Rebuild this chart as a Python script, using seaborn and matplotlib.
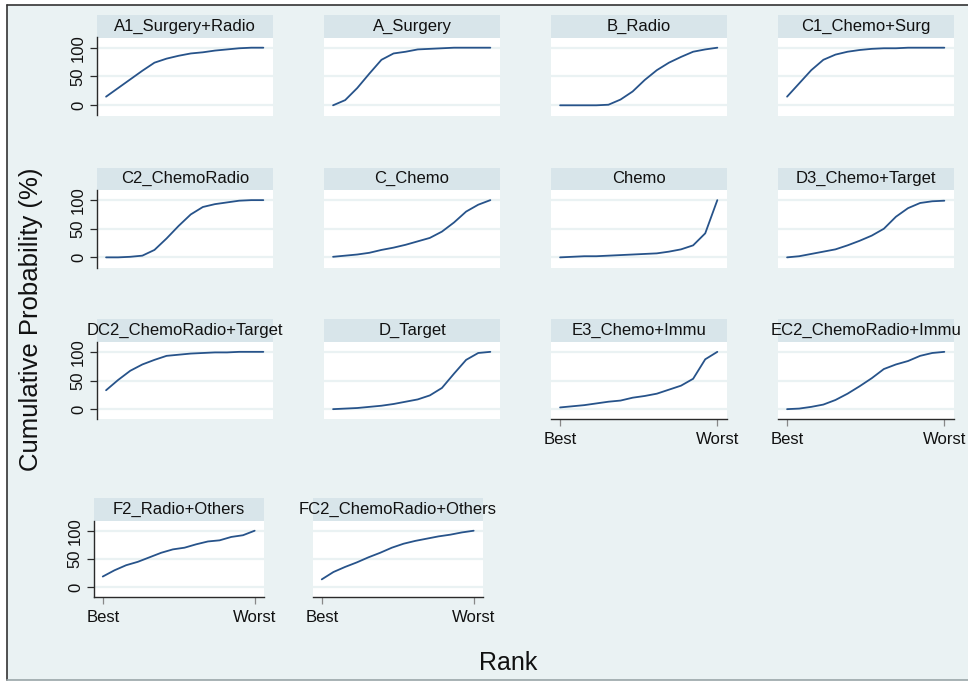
import matplotlib
matplotlib.use("Agg")
import matplotlib.pyplot as plt
import numpy as np
import pandas as pd
import seaborn as sns
from matplotlib.patches import Rectangle
from matplotlib.lines import Line2D

# Cumulative ranking probabilities (%) for each treatment, rank 1 (best) .. 14 (worst)
ranks = list(range(1, 15))
treatments = [
    "A1_Surgery+Radio", "A_Surgery", "B_Radio", "C1_Chemo+Surg",
    "C2_ChemoRadio", "C_Chemo", "Chemo", "D3_Chemo+Target",
    "DC2_ChemoRadio+Target", "D_Target", "E3_Chemo+Immu", "EC2_ChemoRadio+Immu",
    "F2_Radio+Others", "FC2_ChemoRadio+Others",
]
a1_surgery_radio = [15, 30, 45, 60, 74, 81, 86, 90, 92, 95, 97, 99, 100, 100]
a_surgery = [0, 9, 30, 55, 79, 90, 93, 97, 98, 99, 100, 100, 100, 100]
b_radio = [0, 0, 0, 0, 1, 10, 24, 44, 61, 74, 84, 93, 97, 100]
c1_chemo_surg = [15, 38, 61, 79, 88, 93, 96, 98, 99, 99, 100, 100, 100, 100]
c2_chemoradio = [0, 0, 1, 3, 13, 33, 55, 75, 88, 93, 96, 99, 100, 100]
c_chemo = [1, 3, 5, 8, 13, 17, 22, 28, 34, 45, 61, 80, 92, 100]
chemo = [0, 1, 2, 2, 3, 4, 5, 6, 7, 10, 14, 21, 42, 100]
d3_chemo_target = [0, 2, 6, 10, 14, 21, 29, 38, 50, 71, 86, 95, 98, 99]
dc2_chemoradio_target = [33, 51, 67, 78, 86, 93, 95, 97, 98, 99, 99, 100, 100, 100]
d_target = [0, 1, 2, 4, 6, 9, 13, 17, 24, 37, 62, 86, 98, 100]
e3_chemo_immu = [3, 5, 7, 10, 13, 15, 20, 23, 27, 34, 41, 53, 87, 100]
ec2_chemoradio_immu = [0, 1, 4, 8, 16, 27, 40, 54, 70, 78, 84, 93, 98, 100]
f2_radio_others = [19, 30, 39, 45, 53, 61, 67, 70, 76, 81, 83, 89, 92, 100]
fc2_chemoradio_others = [14, 27, 36, 44, 53, 61, 70, 77, 82, 86, 90, 93, 97, 100]

series = [
    a1_surgery_radio, a_surgery, b_radio, c1_chemo_surg,
    c2_chemoradio, c_chemo, chemo, d3_chemo_target,
    dc2_chemoradio_target, d_target, e3_chemo_immu, ec2_chemoradio_immu,
    f2_radio_others, fc2_chemoradio_others,
]
y_ticks = [0, 50, 100]
x_tick_labels = ["Best", "Worst"]

df = pd.DataFrame({
    "treatment": np.repeat(treatments, len(ranks)),
    "rank": ranks * len(treatments),
    "prob": np.concatenate(series),
})

sns.set_style("white")
plt.rcParams["font.family"] = ["Liberation Sans", "DejaVu Sans"]

W, H = 968, 682
fig = plt.figure(figsize=(W / 100, H / 100), dpi=100)
fig.patch.set_facecolor("white")

BG = "#eaf2f3"
STRIP = "#d8e5ea"
LINE = "#27538a"
AXC = "#2a2a2a"
TXT = "#111111"
FS = 12


def fx(px):
    return px / W


def fy(py):
    return 1 - py / H


# outer graph region
fig.add_artist(Rectangle((fx(7), fy(680)), 1 - fx(7), fy(5) - fy(680),
                         transform=fig.transFigure, facecolor=BG, edgecolor="none", zorder=0))
fig.add_artist(Line2D([fx(7), 1], [fy(5), fy(5)], transform=fig.transFigure, color="#333333", lw=1.2))
fig.add_artist(Line2D([fx(7), fx(7)], [fy(5), fy(680)], transform=fig.transFigure, color="#333333", lw=1.2))
fig.add_artist(Line2D([fx(7), 1], [fy(680), fy(680)], transform=fig.transFigure, color="#9aa6a8", lw=1.2))

col_x = [97, 324, 551, 778]
col_w = 176
row4_x = [94, 313]
row4_w = 170
row_top = [37.5, 190, 341.7, 520.7]
row_bot = [115.5, 267.5, 419.3, 597.3]
strip_h = 22.5

for i, name in enumerate(treatments):
    r, c = divmod(i, 4)
    if r == 3:
        x0, w = row4_x[c], row4_w
    else:
        x0, w = col_x[c], col_w
    top, bot = row_top[r], row_bot[r]
    ax = fig.add_axes([fx(x0), fy(bot), fx(w), (bot - top) / H])
    ax.set_facecolor("white")

    sns.lineplot(data=df[df["treatment"] == name], x="rank", y="prob",
                 ax=ax, color=LINE, lw=1.3, legend=False)

    ax.set_xlim(0.25, 14.8)
    ax.set_ylim(-17.7, 117.7)
    for yv in y_ticks:
        ax.axhline(yv, color=BG, lw=1.6, zorder=0)

    for s in ax.spines.values():
        s.set_visible(False)

    # strip title above the plot region
    sh = strip_h / (bot - top)
    ax.add_patch(Rectangle((0, 1), 1, sh, transform=ax.transAxes,
                           facecolor=STRIP, edgecolor="none", clip_on=False))
    ax.text(0.5, 1 + sh / 2, name, transform=ax.transAxes, ha="center", va="center",
            fontsize=FS, color=TXT)

    ax.set_xlabel("")
    ax.set_ylabel("")

    if c == 0:
        ax.spines["left"].set_visible(True)
        ax.spines["left"].set_color(AXC)
        ax.spines["left"].set_linewidth(1.0)
        ax.set_yticks(y_ticks)
        ax.set_yticklabels([str(v) for v in y_ticks], rotation=90, va="center",
                           fontsize=FS, color=TXT)
        ax.tick_params(axis="y", length=5, width=0.9, color=AXC, pad=3, left=True)
    else:
        ax.set_yticks([])

    if (r == 2 and c >= 2) or r == 3:
        ax.spines["bottom"].set_visible(True)
        ax.spines["bottom"].set_color(AXC)
        ax.spines["bottom"].set_linewidth(1.0)
        ax.set_xticks([ranks[0], ranks[-1]])
        ax.set_xticklabels(x_tick_labels, fontsize=FS, color=TXT)
        ax.tick_params(axis="x", length=5, width=0.9, color="#888888", pad=4, bottom=True)
    else:
        ax.set_xticks([])

fig.text(fx(31), fy(319), "Cumulative Probability (%)", rotation=90,
         ha="center", va="center", fontsize=18.5, color=TXT)
fig.text(fx(508), fy(663), "Rank", ha="center", va="center", fontsize=18, color=TXT)

fig.savefig("out.png", dpi=100, facecolor=fig.get_facecolor())
